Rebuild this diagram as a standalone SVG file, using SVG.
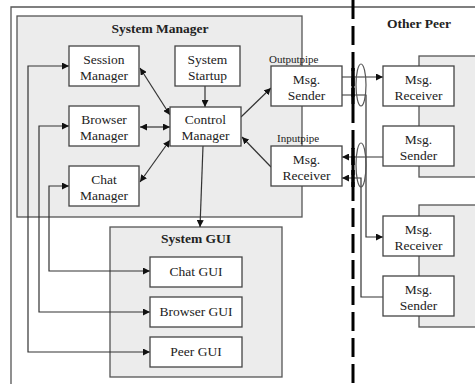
<svg xmlns="http://www.w3.org/2000/svg" width="475" height="384" viewBox="0 0 475 384">
<defs>
<marker id="ah" viewBox="0 0 10 10" refX="10" refY="5" markerWidth="7" markerHeight="7" markerUnits="userSpaceOnUse" orient="auto-start-reverse">
<path d="M0,0 L10,5 L0,10 z" fill="#111"/>
</marker>
<style>
.grp{fill:#ececec;stroke:#555;stroke-width:1.3}
.box{fill:#fff;stroke:#444;stroke-width:1.3}
text{font-family:"Liberation Serif","Times New Roman","DejaVu Serif",serif}
.t{font-size:13.5px;fill:#222;text-anchor:middle}
.h{font-size:13.5px;font-weight:bold;fill:#222;text-anchor:middle}
.s{font-size:11px;fill:#222}
.c{fill:none;stroke:#333;stroke-width:1.2}
.ca{fill:none;stroke:#333;stroke-width:1.2;marker-end:url(#ah)}
.cb{fill:none;stroke:#333;stroke-width:1.2;marker-end:url(#ah);marker-start:url(#ah)}
</style>
</defs>
<rect width="475" height="384" fill="#fff"/>
<path d="M11,384 L11,7 L475,7" fill="none" stroke="#555" stroke-width="1.3"/>

<g id="system-manager" font-family="Liberation Serif, serif">
<rect class="grp" x="17" y="16" width="285" height="201"/>
<text class="h" x="160" y="33">System Manager</text>
</g>
<g id="other-peer-1" font-family="Liberation Serif, serif">
<rect class="grp" x="419" y="56" width="60" height="121"/>
<text class="h" x="419" y="28">Other Peer</text>
</g>
<g id="other-peer-2">
<rect class="grp" x="419" y="205" width="60" height="122"/>
</g>
<g id="system-gui" font-family="Liberation Serif, serif">
<rect class="grp" x="110" y="227" width="172" height="150"/>
<text class="h" x="196" y="243">System GUI</text>
</g>

<g id="connectors">
<line class="cb" x1="140" y1="68" x2="170" y2="115"/>
<line class="cb" x1="140" y1="127" x2="170" y2="127"/>
<line class="cb" x1="140" y1="182" x2="170" y2="140"/>
<line class="ca" x1="205" y1="86" x2="205" y2="107"/>
<line class="ca" x1="203" y1="146" x2="200" y2="227"/>
<line class="ca" x1="241" y1="117" x2="271" y2="88"/>
<line class="ca" x1="271" y1="167" x2="242" y2="137"/>
<path class="cb" d="M69,66 L28,66 L28,352 L150,352"/>
<path class="cb" d="M69,126 L39,126 L39,312 L150,312"/>
<path class="cb" d="M69,186 L49,186 L49,271 L150,271"/>
<line class="ca" x1="342" y1="77" x2="383" y2="77"/>
<path class="ca" d="M342,95 L366,95 L366,237 L383,237"/>
<line class="ca" x1="383" y1="157" x2="342" y2="157"/>
<path class="ca" d="M383,297 L361,297 L361,178 L342,178"/>
<line x1="353" y1="0" x2="353" y2="384" stroke="#000" stroke-width="3" stroke-dasharray="19 7"/>
<g stroke="#000" stroke-width="3.5">
<line x1="353" y1="68" x2="353" y2="86"/>
<line x1="353" y1="88" x2="353" y2="104"/>
<line x1="353" y1="148" x2="353" y2="165"/>
<line x1="353" y1="170" x2="353" y2="187"/>
</g>
<ellipse cx="361" cy="85" rx="5" ry="21" fill="none" stroke="#555" stroke-width="1.2"/>
<ellipse cx="361" cy="165" rx="5" ry="22" fill="none" stroke="#555" stroke-width="1.2"/>
</g>

<g font-family="Liberation Serif, serif">
<g id="session-manager">
<rect class="box" x="69" y="46" width="70" height="40"/>
<text class="t" x="104" y="64">Session</text>
<text class="t" x="104" y="80">Manager</text>
</g>
<g id="system-startup">
<rect class="box" x="175" y="46" width="65" height="40"/>
<text class="t" x="207.5" y="64">System</text>
<text class="t" x="207.5" y="80">Startup</text>
</g>
<g id="browser-manager">
<rect class="box" x="69" y="106" width="70" height="40"/>
<text class="t" x="104" y="124">Browser</text>
<text class="t" x="104" y="140">Manager</text>
</g>
<g id="control-manager">
<rect class="box" x="170" y="107" width="71" height="39"/>
<text class="t" x="205.5" y="124">Control</text>
<text class="t" x="205.5" y="140">Manager</text>
</g>
<g id="chat-manager">
<rect class="box" x="69" y="166" width="70" height="40"/>
<text class="t" x="104" y="184">Chat</text>
<text class="t" x="104" y="200">Manager</text>
</g>
<g id="msg-sender-local">
<rect class="box" x="271" y="66" width="71" height="40"/>
<text class="t" x="306.5" y="84">Msg.</text>
<text class="t" x="306.5" y="100">Sender</text>
<text class="s" x="269" y="63">Outputpipe</text>
</g>
<g id="msg-receiver-local">
<rect class="box" x="271" y="146" width="71" height="40"/>
<text class="t" x="306.5" y="164">Msg.</text>
<text class="t" x="306.5" y="180">Receiver</text>
<text class="s" x="277" y="142">Inputpipe</text>
</g>
<g id="peer1-receiver">
<rect class="box" x="383" y="66" width="71" height="40"/>
<text class="t" x="418.5" y="84">Msg.</text>
<text class="t" x="418.5" y="100">Receiver</text>
</g>
<g id="peer1-sender">
<rect class="box" x="383" y="126" width="71" height="40"/>
<text class="t" x="418.5" y="144">Msg.</text>
<text class="t" x="418.5" y="160">Sender</text>
</g>
<g id="peer2-receiver">
<rect class="box" x="383" y="216" width="71" height="40"/>
<text class="t" x="418.5" y="234">Msg.</text>
<text class="t" x="418.5" y="250">Receiver</text>
</g>
<g id="peer2-sender">
<rect class="box" x="383" y="276" width="71" height="40"/>
<text class="t" x="418.5" y="294">Msg.</text>
<text class="t" x="418.5" y="310">Sender</text>
</g>
<g id="chat-gui">
<rect class="box" x="150" y="257" width="92" height="30"/>
<text class="t" x="196" y="276">Chat GUI</text>
</g>
<g id="browser-gui">
<rect class="box" x="150" y="297" width="92" height="30"/>
<text class="t" x="196" y="316">Browser GUI</text>
</g>
<g id="peer-gui">
<rect class="box" x="150" y="337" width="92" height="30"/>
<text class="t" x="196" y="356">Peer GUI</text>
</g>
</g>
</svg>
